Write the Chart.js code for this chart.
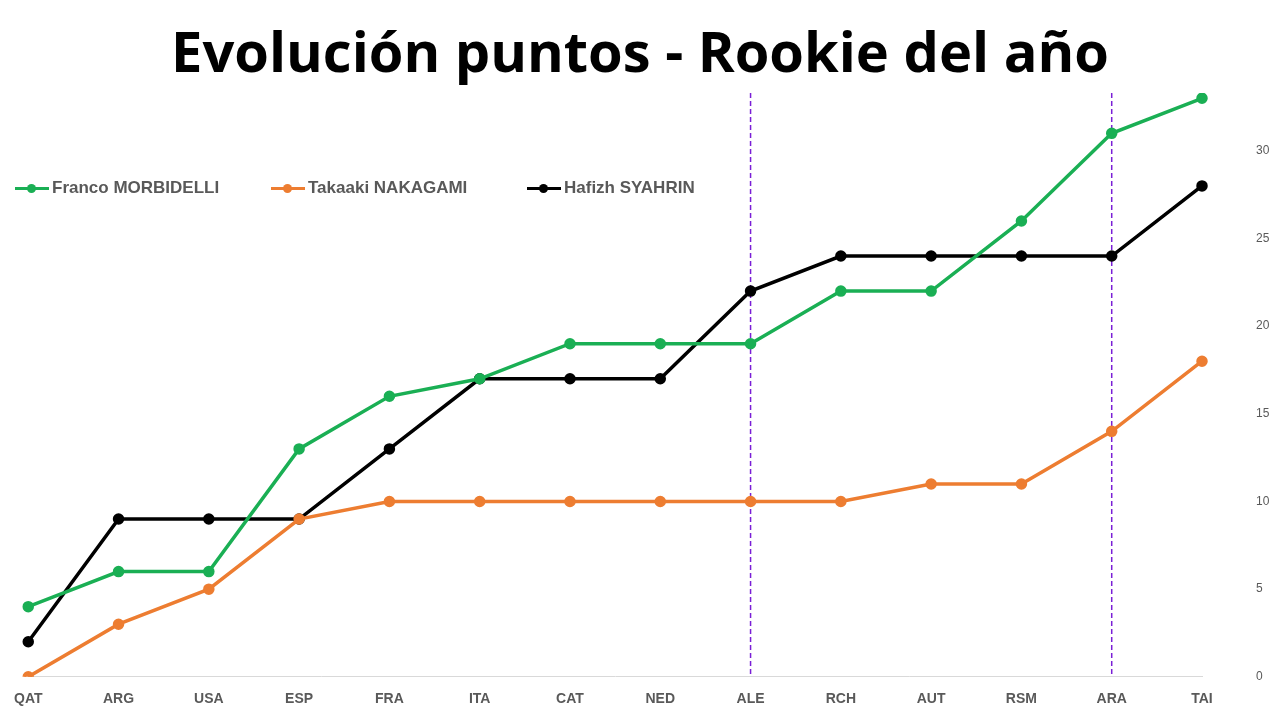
<!DOCTYPE html>
<html><head><meta charset="utf-8">
<script src="https://cdn.jsdelivr.net/npm/chart.js@4"></script>
<style>
body{margin:0;width:1280px;height:720px;background:#fff;font-family:Calibri,'Liberation Sans',Arial,sans-serif;overflow:hidden;position:relative}
#t{position:absolute;top:12px;left:0;width:1280px;text-align:center;font:bold 56px 'Open Sans','Liberation Sans',sans-serif;color:#000}
#c{position:absolute;left:0;top:0}
.lg{position:absolute;top:178px;font:bold 17px 'Liberation Sans',Arial,sans-serif;color:#595959;display:flex;align-items:center}
.mk{width:34px;height:3px;position:relative;margin-right:3px}
.mk i{position:absolute;left:12px;top:-3px;width:9px;height:9px;border-radius:50%}
</style></head><body>
<div id="t">Evolución puntos - Rookie del año</div>
<canvas id="c" width="1280" height="730"></canvas>
<div class="lg" style="left:15px"><span class="mk" style="background:#1aaf54"><i style="background:#1aaf54"></i></span>Franco MORBIDELLI</div>
<div class="lg" style="left:271px"><span class="mk" style="background:#ed7d31"><i style="background:#ed7d31"></i></span>Takaaki NAKAGAMI</div>
<div class="lg" style="left:527px"><span class="mk" style="background:#000"><i style="background:#000"></i></span>Hafizh SYAHRIN</div>
<script>
const categories=['QAT','ARG','USA','ESP','FRA','ITA','CAT','NED','ALE','RCH','AUT','RSM','ARA','TAI'];
const morbidelli=[4,6,6,13,16,17,19,19,19,22,22,26,31,33];
const nakagami=[0,3,5,9,10,10,10,10,10,10,11,11,14,18];
const syahrin=[2,9,9,9,13,17,17,17,22,24,24,24,24,28];
const markers=['ALE','ARA'];
const vlines={id:'vl',beforeDatasetsDraw(ch){const c=ch.ctx,x=ch.scales.x,a=ch.chartArea;c.save();c.strokeStyle='#7a1fd6';c.lineWidth=1.5;c.setLineDash([5,3]);
markers.forEach(m=>{const px=x.getPixelForValue(categories.indexOf(m));c.beginPath();c.moveTo(px,a.top);c.lineTo(px,a.bottom);c.stroke();});c.restore();}};
const ds=(d,col)=>({data:d,borderColor:col,backgroundColor:col,borderWidth:3.5,pointRadius:4,pointHoverRadius:4,tension:0});
new Chart(document.getElementById('c'),{type:'line',
data:{labels:categories,datasets:[ds(morbidelli,'#1aaf54'),ds(nakagami,'#ed7d31'),ds(syahrin,'#000')]},
options:{responsive:false,animation:false,layout:{padding:{left:20,top:93,right:4,bottom:0}},
plugins:{legend:{display:false},tooltip:{enabled:false}},
scales:{x:{offset:false,grid:{display:false,drawTicks:false},border:{color:'#d9d9d9'},ticks:{color:'#595959',font:{size:14,weight:'bold'},padding:14,maxRotation:0}},
y:{position:'right',min:0,max:33.3,grid:{display:false},border:{display:false},afterBuildTicks(s){s.ticks=[0,5,10,15,20,25,30].map(v=>({value:v}));},
afterFit(s){s.width=74;},ticks:{color:'#595959',font:{size:12},padding:46}}}},
plugins:[vlines]});
</script></body></html>
